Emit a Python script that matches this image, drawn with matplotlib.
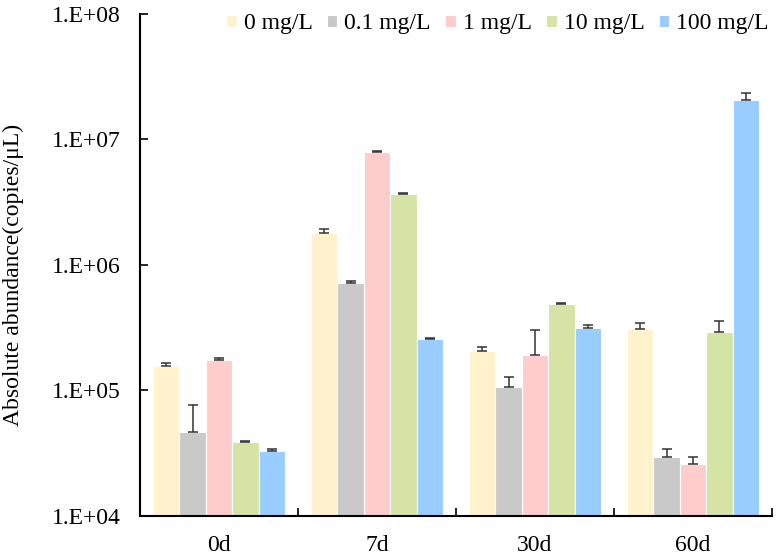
import matplotlib
matplotlib.use("Agg")
import matplotlib.pyplot as plt
import numpy as np
from matplotlib.ticker import FixedLocator, FuncFormatter

plt.rcParams['font.family'] = ['Liberation Serif', 'DejaVu Serif']

categories = ["0d", "7d", "30d", "60d"]
series = ["0 mg/L", "0.1 mg/L", "1 mg/L", "10 mg/L", "100 mg/L"]
colors = ["#FFF2CC", "#C9C9C9", "#FFCCCC", "#D5E3A5", "#99CCFF"]

v0 = [1.57e5, 1.79e6, 2.06e5, 3.07e5]
v01 = [4.67e4, 7.15e5, 1.06e5, 2.97e4]
v1 = [1.75e5, 8.0e6, 1.92e5, 2.6e4]
v10 = [3.91e4, 3.66e6, 4.92e5, 2.91e5]
v100 = [3.31e4, 2.56e5, 3.13e5, 2.05e7]

e0 = [0.08e5, 0.15e6, 0.15e5, 0.40e5]
e01 = [3.0e4, 0.3e5, 0.22e5, 0.42e4]
e1 = [0.08e5, 0.05e6, 1.1e5, 0.35e4]
e10 = [0.05e4, 0.1e6, 0.05e5, 0.65e5]
e100 = [0.1e4, 0.05e5, 0.2e5, 0.3e7]

values = [v0, v01, v1, v10, v100]
errors = [e0, e01, e1, e10, e100]

fig = plt.figure(figsize=(7.8, 5.55), dpi=100)
ax = fig.add_axes([0.1795, 0.0703, 0.8102, 0.9045])

x = np.arange(len(categories))
w = 0.167
for i, (name, vals, errs, c) in enumerate(zip(series, values, errors, colors)):
    pos = x + (i - 2) * w
    ax.bar(pos, vals, width=w, color=c, edgecolor='white', linewidth=0.8,
           label=name, zorder=2)
    ax.errorbar(pos, vals, yerr=[np.zeros(len(vals)), errs], fmt='none',
                ecolor='#333333', elinewidth=1.1, capsize=3.5, capthick=1.1,
                zorder=3)

ax.set_yscale('log')
ax.set_ylim(1e4, 1e8)
ax.set_xlim(-0.5, 3.5)
ax.yaxis.set_major_locator(FixedLocator([1e4, 1e5, 1e6, 1e7, 1e8]))
ax.yaxis.set_minor_locator(FixedLocator([]))
ax.yaxis.set_major_formatter(FuncFormatter(lambda v, p: "1.E+%02d" % int(round(np.log10(v)))))

ax.set_xticks(x)
ax.set_xticklabels(categories)
ax.set_xticks([-0.5, 0.5, 1.5, 2.5, 3.5], minor=True)
ax.tick_params(axis='x', which='major', length=0, pad=14, labelsize=17)
ax.tick_params(axis='x', which='minor', direction='in', length=6, width=1.2)
ax.tick_params(axis='y', which='major', direction='in', length=6, width=1.2,
               pad=14, labelsize=17)

for s in ['top', 'right']:
    ax.spines[s].set_visible(False)
for s in ['left', 'bottom']:
    ax.spines[s].set_linewidth(1.5)
    ax.spines[s].set_color('black')

ax.set_ylabel("Absolute abundance(copies/μL)", fontsize=17)
ax.yaxis.set_label_coords(-0.183, 0.481)

leg = ax.legend(loc='upper right', bbox_to_anchor=(1.01, 1.02), ncol=5,
                frameon=False, fontsize=17, handlelength=0.45,
                handleheight=0.45, handletextpad=0.3, columnspacing=0.6,
                borderaxespad=0.0)

fig.savefig("out.png", dpi=100)
